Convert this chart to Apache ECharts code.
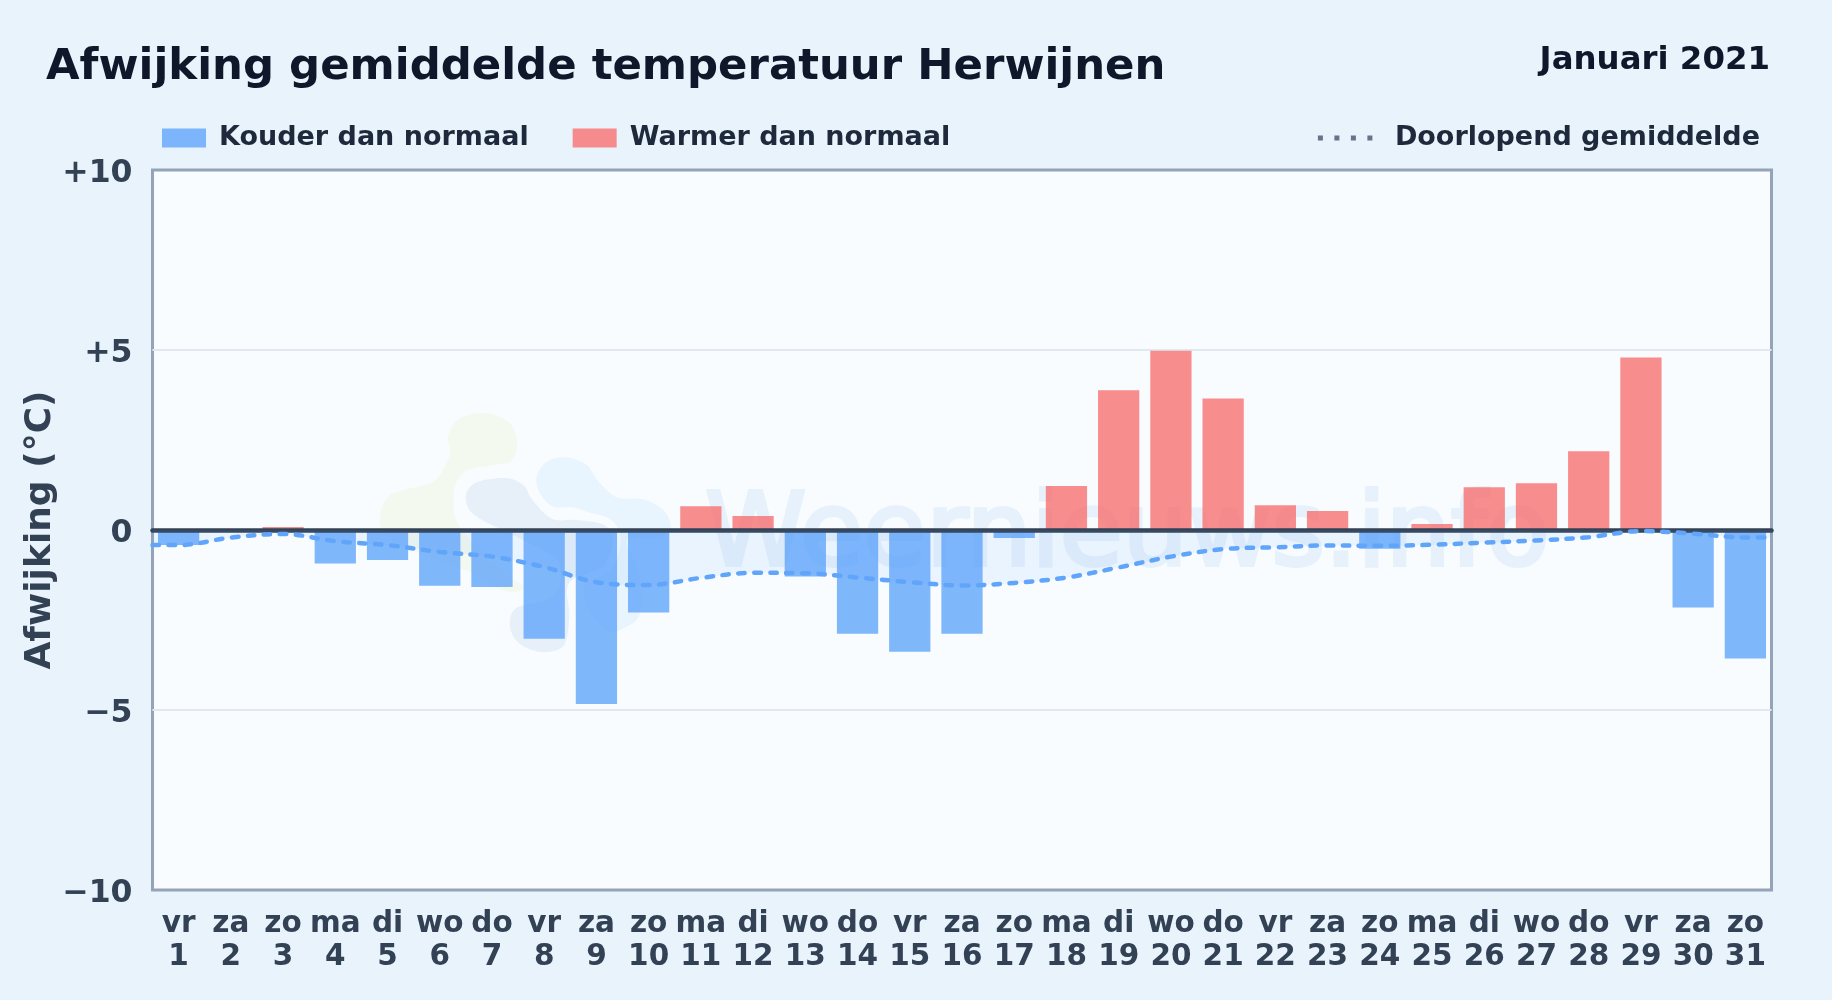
<!DOCTYPE html>
<html><head><meta charset="utf-8">
<style>html,body{margin:0;padding:0;background:#e8f3fc}#c{width:1832px;height:1000px}</style>
<script src="https://cdn.jsdelivr.net/npm/echarts@6/dist/echarts.min.js"></script>
</head><body><div id="c"></div>
<script>
const weekdays = ['vr','za','zo','ma','di','wo','do','vr','za','zo','ma','di','wo','do','vr','za','zo','ma','di','wo','do','vr','za','zo','ma','di','wo','do','vr','za','zo'];
const days = [1,2,3,4,5,6,7,8,9,10,11,12,13,14,15,16,17,18,19,20,21,22,23,24,25,26,27,28,29,30,31];
const deviation = [-0.42,0,0.08,-0.93,-0.83,-1.55,-1.58,-3.02,-4.83,-2.29,0.66,0.39,-1.29,-2.88,-3.38,-2.88,-0.22,1.22,3.88,4.98,3.65,0.69,0.53,-0.52,0.17,1.19,1.30,2.19,4.79,-2.15,-3.57];
const runningMean = [-0.42,-0.21,-0.11,-0.31,-0.42,-0.61,-0.74,-1.03,-1.45,-1.53,-1.33,-1.19,-1.20,-1.32,-1.45,-1.54,-1.47,-1.32,-1.04,-0.74,-0.53,-0.48,-0.43,-0.44,-0.41,-0.35,-0.29,-0.20,-0.03,-0.10,-0.21];
const yTicks = {'10':'+10','5':'+5','0':'0','-5':'\u22125','-10':'\u221210'};
const FONT = '"DejaVu Sans"';
const cats = weekdays.map((w,i)=>w+'\n'+days[i]);
const cold = deviation.map(v=>v<0?v:null);
const warm = deviation.map(v=>v>0?v:null);
const linePts = [[0.5,runningMean[0]]].concat(runningMean.map((v,i)=>[days[i],v]),[[31.5,runningMean[30]]]);
// watermark logo outline: rounded closed curve through hand-placed points
function rounded(pts){
  const out=[],n=pts.length;
  for(let i=0;i<n;i++){
    const a=pts[(i+n-1)%n],b=pts[i],c=pts[(i+1)%n],d=pts[(i+2)%n];
    for(let k=0;k<8;k++){
      const t=k/8,t2=t*t,t3=t2*t;
      out.push([0,1].map(j=>0.5*(2*b[j]+(c[j]-a[j])*t+(2*a[j]-5*b[j]+4*c[j]-d[j])*t2+(3*b[j]-a[j]-3*c[j]+d[j])*t3)));
    }
  }
  return out;
}
const blob = (points,style)=>({type:'polygon',x:360,y:400,scaleX:1/3,scaleY:1/3,z:1,shape:{points:rounded(points)},style});
const chart = echarts.init(document.getElementById('c'),null,{renderer:'canvas'});
chart.setOption({
  animation:false,
  backgroundColor:'#e8f3fc',
  title:[
    {text:'Afwijking gemiddelde temperatuur Herwijnen',left:41,top:41,textStyle:{fontFamily:FONT,fontWeight:'bold',fontSize:43.4,color:'#0f172a'}},
    {text:'Januari 2021',right:57,top:40,textStyle:{fontFamily:FONT,fontWeight:'bold',fontSize:32.4,color:'#0f172a'}}
  ],
  legend:[
    {left:157,top:119.6,itemWidth:44,itemHeight:19,itemGap:44,selectedMode:false,icon:'rect',
     textStyle:{fontFamily:FONT,fontWeight:'bold',fontSize:27,color:'#1e293b',padding:[4,0,0,8]},
     data:['Kouder dan normaal','Warmer dan normaal']},
    {right:67,top:119.6,itemWidth:56,itemHeight:19,selectedMode:false,
     textStyle:{fontFamily:FONT,fontWeight:'bold',fontSize:27,color:'#1e293b',padding:[4,0,0,16]},
     data:[{name:'Doorlopend gemiddelde',lineStyle:{color:'#64748b',width:5,type:[5,11.5],cap:'butt'},itemStyle:{opacity:0}}]}
  ],
  grid:{left:152.5,right:60.5,top:170,bottom:110,show:true,backgroundColor:'#f8fcff',borderColor:'#94a3b8',borderWidth:3},
  xAxis:[
    {type:'category',data:cats,position:'bottom',axisLine:{show:false,onZero:false},axisTick:{show:false},splitLine:{show:false},
     axisLabel:{interval:0,margin:17.5,fontFamily:FONT,fontWeight:'bold',fontSize:29.5,lineHeight:33,color:'#334155'}},
    {type:'value',min:0.5,max:31.5,position:'bottom',z:3,axisLine:{show:true,onZero:true,lineStyle:{color:'#334155',width:4.5}},axisTick:{show:false},axisLabel:{show:false},splitLine:{show:false}}
  ],
  yAxis:{type:'value',min:-10,max:10,interval:5,
    name:'Afwijking (°C)',nameLocation:'middle',nameGap:93.5,nameMoveOverlap:false,nameTextStyle:{fontFamily:FONT,fontWeight:'bold',fontSize:36,color:'#334155'},
    axisLine:{show:false},axisTick:{show:false},
    axisLabel:{margin:20,verticalAlign:'top',lineHeight:7,fontFamily:FONT,fontWeight:'bold',fontSize:31.5,color:'#334155',formatter:v=>yTicks[String(v)]},
    splitLine:{showMinLine:false,showMaxLine:false,lineStyle:{color:'#e2e8f0',width:2}}},
  series:[
    {name:'Kouder dan normaal',type:'bar',stack:'d',xAxisIndex:0,barCategoryGap:'21%',data:cold,itemStyle:{color:'rgba(96,165,250,0.8)'}},
    {name:'Warmer dan normaal',type:'bar',stack:'d',xAxisIndex:0,barCategoryGap:'21%',data:warm,itemStyle:{color:'rgba(248,113,113,0.8)'}},
    {name:'Doorlopend gemiddelde',type:'line',xAxisIndex:1,z:5,data:linePts,symbol:'none',smooth:0.35,
     lineStyle:{color:'#60a5fa',width:4.5,type:[6.5,9.5],cap:'round'},areaStyle:{color:'rgba(96,165,250,0.12)'}}
  ],
  graphic:[
    blob([[265,105],[300,55],[380,40],[450,70],[472,135],[450,185],[400,195],[320,212],[285,260],[285,350],[330,420],[420,510],[490,560],[440,575],[340,520],[200,470],[75,400],[62,340],[85,290],[130,270],[220,245],[260,190],[270,150]],{fill:'#f4f9ef'}),
    blob([[530,230],[560,185],[620,172],[680,195],[712,240],[770,292],[850,298],[915,335],[930,390],[880,415],[800,420],[835,520],[840,640],[790,685],[740,690],[680,620],[680,530],[740,450],[740,370],[650,325],[580,320],[540,280]],{fill:'#e8f5fe'}),
    blob([[305,290],[340,238],[440,222],[500,248],[525,290],[580,345],[650,348],[740,365],[770,420],[745,500],[690,530],[635,560],[640,650],[620,745],[545,768],[470,740],[438,680],[460,615],[570,580],[590,510],[560,470],[420,400],[330,350]],{fill:'#e7f0f9',stroke:'#f8fcff',lineWidth:24}),
    {type:'text',z:1,left:703,top:485,style:{text:'Weernieuws.info',fontFamily:FONT,fontWeight:'normal',fontSize:102.4,fill:'#e6f1fb',stroke:'#e6f1fb',lineWidth:4}}
  ]
});
</script></body></html>
